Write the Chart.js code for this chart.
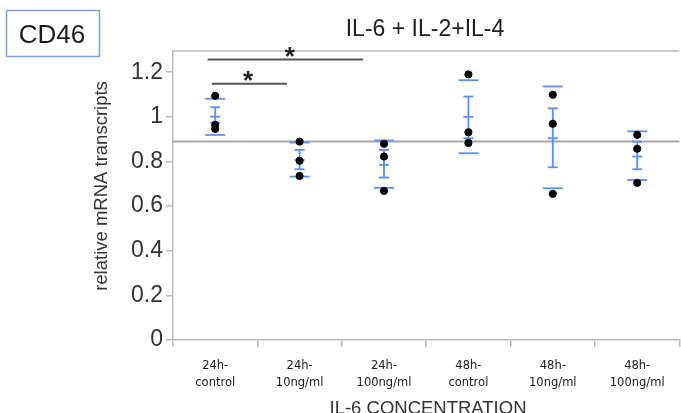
<!DOCTYPE html>
<html>
<head>
<meta charset="utf-8">
<script src="https://cdn.jsdelivr.net/npm/chart.js@4/dist/chart.umd.min.js"></script>
<style>
  html, body { margin: 0; padding: 0; background: #fff; overflow: hidden; }
  #chart { display: block; }
</style>
</head>
<body>
<canvas id="chart" width="684" height="413"></canvas>
<script>
// Data
const categories = [
  ['24h-', 'control'], ['24h-', '10ng/ml'], ['24h-', '100ng/ml'],
  ['48h-', 'control'], ['48h-', '10ng/ml'], ['48h-', '100ng/ml']
];
const replicate1 = [1.094, 0.889, 0.879, 1.190, 1.099, 0.919];
const replicate2 = [0.964, 0.803, 0.822, 0.931, 0.969, 0.857];
const replicate3 = [0.946, 0.735, 0.668, 0.883, 0.655, 0.704];
const means = [1.001, 0.807, 0.785, 1.000, 0.904, 0.822];
const seLow = [0.974, 0.765, 0.728, 0.904, 0.774, 0.765];
const seHigh = [1.043, 0.852, 0.852, 1.091, 1.038, 0.889];
const rangeLow = [0.919, 0.732, 0.682, 0.837, 0.680, 0.717];
const rangeHigh = [1.081, 0.885, 0.894, 1.164, 1.136, 0.935];
const refLevel = 0.89;
const yTicks = [0, 0.2, 0.4, 0.6, 0.8, 1, 1.2];

// significance brackets (category index units)
const sigFrom = [-0.04, -0.09];
const sigTo = [0.85, 1.75];
const sigY = [1.148, 1.257];
const starX = [0.39, 0.885];
const starY = [1.194, 1.298];

const BLUE = '#5b8ff0';

const dotData = [];
[replicate1, replicate2, replicate3].forEach(rep => {
  rep.forEach((v, i) => dotData.push({ x: i, y: v }));
});

const extras = {
  id: 'extras',
  beforeDatasetsDraw(chart) {
    const { ctx, chartArea } = chart;
    const xs = chart.scales.xv, ys = chart.scales.y;
    ctx.save();
    // top frame line
    ctx.strokeStyle = '#bbbbbb';
    ctx.lineWidth = 1.5;
    ctx.beginPath();
    ctx.moveTo(chartArea.left, chartArea.top);
    ctx.lineTo(chartArea.right, chartArea.top);
    ctx.stroke();
    // reference line
    ctx.strokeStyle = '#a8a8a8';
    ctx.lineWidth = 2;
    ctx.beginPath();
    ctx.moveTo(chartArea.left, ys.getPixelForValue(refLevel));
    ctx.lineTo(chartArea.right, ys.getPixelForValue(refLevel));
    ctx.stroke();
    // error bars
    ctx.strokeStyle = BLUE;
    ctx.lineWidth = 1.8;
    const hline = (x, y, hw) => {
      ctx.beginPath();
      ctx.moveTo(x - hw, y);
      ctx.lineTo(x + hw, y);
      ctx.stroke();
    };
    means.forEach((m, i) => {
      const x = xs.getPixelForValue(i);
      const lo = ys.getPixelForValue(seLow[i]);
      const hi = ys.getPixelForValue(seHigh[i]);
      ctx.beginPath();
      ctx.moveTo(x, lo);
      ctx.lineTo(x, hi);
      ctx.stroke();
      hline(x, lo, 5);
      hline(x, hi, 5);
      hline(x, ys.getPixelForValue(m), 5);
      hline(x, ys.getPixelForValue(rangeLow[i]), 10);
      hline(x, ys.getPixelForValue(rangeHigh[i]), 10);
    });
    // significance brackets
    ctx.strokeStyle = '#555555';
    ctx.lineWidth = 2;
    sigY.forEach((v, i) => {
      const y = ys.getPixelForValue(v);
      ctx.beginPath();
      ctx.moveTo(xs.getPixelForValue(sigFrom[i]), y);
      ctx.lineTo(xs.getPixelForValue(sigTo[i]), y);
      ctx.stroke();
    });
    ctx.fillStyle = '#222';
    ctx.font = 'bold 26px "Liberation Sans", Arial, sans-serif';
    ctx.textAlign = 'center';
    ctx.textBaseline = 'alphabetic';
    starX.forEach((v, i) => {
      ctx.fillText('*', xs.getPixelForValue(v), ys.getPixelForValue(starY[i]) + 15);
    });
    ctx.restore();
  },
  afterDraw(chart) {
    const { ctx } = chart;
    ctx.save();
    // CD46 box
    ctx.strokeStyle = '#7b9fe2';
    ctx.lineWidth = 1.5;
    ctx.strokeRect(6.5, 10.5, 93, 46);
    ctx.fillStyle = '#1a1a1a';
    ctx.textAlign = 'center';
    ctx.textBaseline = 'alphabetic';
    ctx.font = '26px "Liberation Sans", Arial, sans-serif';
    ctx.fillText('CD46', 52, 43);
    // title
    ctx.fillStyle = '#222';
    ctx.font = '23px "Liberation Sans", Arial, sans-serif';
    ctx.fillText('IL-6 + IL-2+IL-4', 425, 36);
    // x title
    ctx.fillStyle = '#333';
    ctx.font = '18.5px "Liberation Sans", Arial, sans-serif';
    ctx.fillText('IL-6 CONCENTRATION', 428, 414);
    // y title
    ctx.translate(102, 186);
    ctx.rotate(-Math.PI / 2);
    ctx.textBaseline = 'middle';
    ctx.font = '18.5px "Liberation Sans", Arial, sans-serif';
    ctx.fillText('relative mRNA transcripts', 0, 0);
    ctx.restore();
  }
};

new Chart(document.getElementById('chart'), {
  type: 'scatter',
  data: {
    labels: categories,
    datasets: [{
      label: 'replicates',
      data: dotData,
      xAxisID: 'xv',
      backgroundColor: '#000',
      borderColor: '#000',
      pointRadius: 3.6,
      pointHoverRadius: 3.6
    }]
  },
  options: {
    responsive: false,
    animation: false,
    layout: { padding: { top: 51, left: 0, right: 0, bottom: 0 } },
    plugins: { legend: { display: false }, tooltip: { enabled: false }, title: { display: false } },
    scales: {
      x: {
        type: 'category',
        position: 'bottom',
        offset: true,
        afterFit(scale) { scale.height = 73; },
        grid: { offset: true, drawOnChartArea: false, drawTicks: true, tickLength: 7, color: '#bbbbbb', lineWidth: 1.5 },
        border: { display: true, color: '#bbbbbb', width: 1.5 },
        ticks: {
          color: '#1a1a1a',
          padding: 11,
          maxRotation: 0,
          autoSkip: false,
          font: { family: '"DejaVu Sans", sans-serif', size: 11.5, lineHeight: 1.45 }
        }
      },
      xv: {
        type: 'linear',
        display: false,
        min: -0.5,
        max: 5.5
      },
      y: {
        type: 'linear',
        min: 0,
        max: 1.295,
        afterFit(scale) { scale.width = 173; },
        afterBuildTicks(scale) { scale.ticks = yTicks.map(v => ({ value: v })); },
        grid: { drawOnChartArea: false, drawTicks: true, tickLength: 7, color: '#bbbbbb', lineWidth: 1.5 },
        border: { display: true, color: '#bbbbbb', width: 1.5 },
        ticks: {
          color: '#333',
          padding: 3,
          callback: v => String(v),
          font: { family: '"Liberation Sans", Arial, sans-serif', size: 23 }
        }
      }
    }
  },
  plugins: [extras]
});
</script>
</body>
</html>
